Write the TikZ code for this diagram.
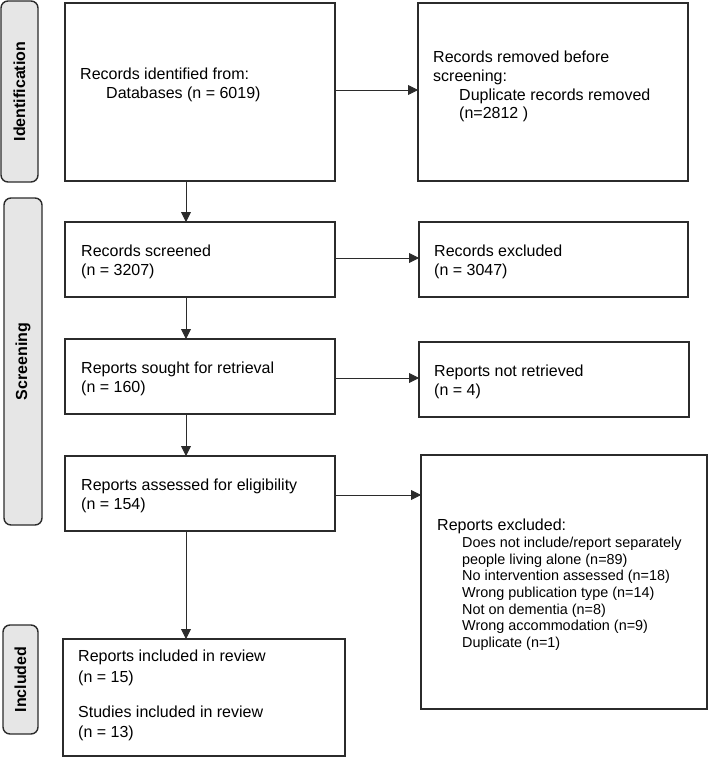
\documentclass[tikz,border=0pt]{standalone}
\usepackage{fontspec}
\setmainfont{Liberation Sans}
\usetikzlibrary{arrows.meta}
\definecolor{edge}{HTML}{2B2B2B}
\definecolor{phasefill}{HTML}{E6E6E6}
\tikzset{
  box/.style={draw=edge, line width=1.4pt, rectangle, inner sep=0pt, outer sep=0pt},
  phase/.style={draw=edge, line width=1.4pt, fill=phasefill, rounded corners=7pt, inner sep=0pt, outer sep=0pt},
  phasetxt/.style={rotate=90, font=\fontsize{16}{19}\selectfont\bfseries, inner sep=0pt},
  txt/.style={anchor=north west, align=left, inner sep=0pt, font=\fontsize{16}{19}\selectfont},
  flow/.style={draw=edge, line width=0.9pt, -{Triangle[length=10pt,width=10pt]}},
}
\begin{document}
\begin{tikzpicture}[x=1pt,y=-1pt]
\useasboundingbox (0,0) rectangle (709,758);
% phase labels
\node[phase, minimum width=37pt, minimum height=181pt] (pid) at (19.5,91.5) {};
\node[phasetxt] (pidt) at (pid.center) {Identification};
\node[phase, minimum width=38pt, minimum height=327pt] (psc) at (23,361.5) {};
\node[phasetxt] (psct) at (psc.center) {Screening};
\node[phase, minimum width=35pt, minimum height=109pt] (pin) at (20.5,679.5) {};
\node[phasetxt] (pint) at (pin.center) {Included};
% boxes
\node[box, minimum width=270pt, minimum height=178pt] (b1) at (200,92) {};
\node[box, minimum width=270pt, minimum height=178pt] (b2) at (553,92) {};
\node[box, minimum width=270pt, minimum height=75pt] (b3) at (200,259.5) {};
\node[box, minimum width=269pt, minimum height=75pt] (b4) at (553.5,259.5) {};
\node[box, minimum width=270pt, minimum height=75pt] (b5) at (200,376.5) {};
\node[box, minimum width=270pt, minimum height=75pt] (b6) at (554,379.5) {};
\node[box, minimum width=270pt, minimum height=75pt] (b7) at (200,493.5) {};
\node[box, minimum width=286pt, minimum height=254pt] (b8) at (564,582) {};
\node[box, minimum width=282pt, minimum height=117pt] (b9) at (204,697.5) {};
% texts
\node[txt] (t1) at (80,66) {\strut Records identified from:\\\hspace*{26pt}Databases (n = 6019)};
\node[txt, font=\fontsize{16}{18.7}\selectfont] (t2) at (433,49.5) {\strut Records removed before\\screening:\\\hspace*{26pt}Duplicate records removed\\\hspace*{26pt}(n=2812 )};
\node[txt] (t3) at (81,243.2) {\strut Records screened\\(n = 3207)};
\node[txt] (t4) at (434,243.2) {\strut Records excluded\\(n = 3047)};
\node[txt] (t5) at (81,360.2) {\strut Reports sought for retrieval\\(n = 160)};
\node[txt] (t6) at (434,363.2) {\strut Reports not retrieved\\(n = 4)};
\node[txt] (t7) at (81,477.2) {\strut Reports assessed for eligibility\\(n = 154)};
\node[txt, font=\fontsize{16}{16.7}\selectfont] (t8) at (437,518.8) {\strut Reports excluded:\\
  {\fontsize{14.4}{16.7}\selectfont\hspace*{25pt}Does not include/report separately}\\
  {\fontsize{14.4}{16.7}\selectfont\hspace*{25pt}people living alone (n=89)}\\
  {\fontsize{14.4}{16.7}\selectfont\hspace*{25pt}No intervention assessed (n=18)}\\
  {\fontsize{14.4}{16.7}\selectfont\hspace*{25pt}Wrong publication type (n=14)}\\
  {\fontsize{14.4}{16.7}\selectfont\hspace*{25pt}Not on dementia (n=8)}\\
  {\fontsize{14.4}{16.7}\selectfont\hspace*{25pt}Wrong accommodation (n=9)}\\
  {\fontsize{14.4}{16.7}\selectfont\hspace*{25pt}Duplicate (n=1)}};
\node[txt, font=\fontsize{16}{20.5}\selectfont] (t9) at (78,647.2) {\strut Reports included in review\\(n = 15)\\[14.5pt]Studies included in review\\(n = 13)};
% connector anchors
\coordinate (xc) at (186,0);
\coordinate (y1) at (0,90);
\coordinate (y3) at (0,258);
\coordinate (y5) at (0,378);
\coordinate (y7) at (0,495);
% vertical arrows
\draw[flow] (b1.south -| xc) -- (b3.north -| xc);
\draw[flow] (b3.south -| xc) -- (b5.north -| xc);
\draw[flow] (b5.south -| xc) -- (b7.north -| xc);
\draw[flow] (b7.south -| xc) -- (b9.north -| xc);
% horizontal arrows
\draw[flow] (b1.east |- y1) -- (b2.west |- y1);
\draw[flow] (b3.east |- y3) -- (b4.west |- y3);
\draw[flow] (b5.east |- y5) -- (b6.west |- y5);
\draw[flow] (b7.east |- y7) -- (b8.west |- y7);
\end{tikzpicture}
\end{document}
